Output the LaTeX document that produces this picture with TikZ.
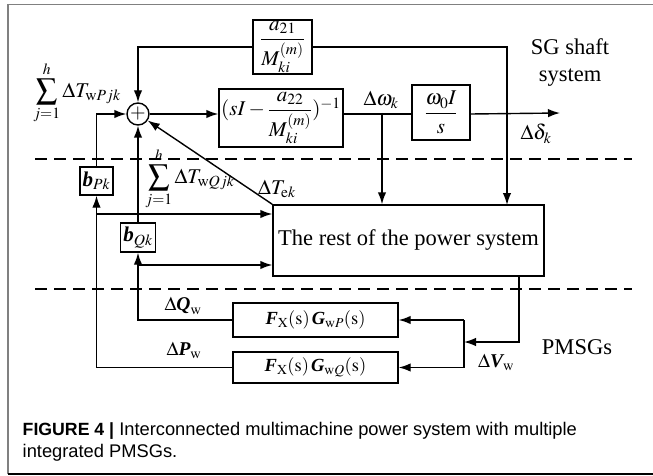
\documentclass[tikz,border=0pt]{standalone}
\usepackage{amsmath}
\usepackage{mathptmx}
\usepackage{fontspec}
\setmainfont{Liberation Serif}
\newfontfamily\capfont{Liberation Sans}
\usetikzlibrary{arrows.meta}
\newcommand{\bi}[1]{\text{\bfseries\itshape #1}}
\begin{document}
\begin{tikzpicture}[x=1pt,y=-1pt, line width=1.4pt,
  >={Latex[length=12pt,width=8.5pt]},
  blk/.style={draw, inner sep=0pt, font=\fontsize{21}{24}\selectfont},
  fblk/.style={draw, inner sep=0pt, font=\fontsize{18.5}{22}\selectfont},
  lbl/.style={inner sep=0pt, font=\fontsize{21}{24}\selectfont},
  slbl/.style={inner sep=0pt, font=\fontsize{19.5}{22}\selectfont},
  txt/.style={inner sep=0pt, font=\fontsize{22.5}{27}\selectfont},
  dsh/.style={dash pattern=on 12pt off 7pt},
  frame/.style={line width=1.2pt}]
\useasboundingbox (0,0) rectangle (653,476);
\draw[frame, gray] (653,4.5) -- (8,4.5) -- (8,474);
\draw[frame, black] (8,474) -- (653,474);

% blocks
\node[blk, minimum width=59pt, minimum height=54pt] (a21) at (282.5,47) {$\dfrac{a_{21}}{M_{ki}^{(m)}}$};
\node[blk, minimum width=124pt, minimum height=58pt] (inv) at (281,118) {$(sI-\dfrac{a_{22}}{M_{ki}^{(m)}})^{-1}$};
\node[blk, minimum width=58pt, minimum height=55pt] (int) at (441,112.5) {$\dfrac{\omega_0 I}{s}$};
\node[draw, circle, minimum size=22pt, inner sep=0pt, font=\fontsize{20}{20}\selectfont] (sum) at (138,114) {$+$};
\node[draw, txt, minimum width=271pt, minimum height=71pt] (rest) at (408.5,240.5) {The rest of the power system};
\node[blk, minimum width=33pt, minimum height=28pt] (bP) at (96.5,181) {$\bi{b}_{Pk}$};
\node[blk, minimum width=35pt, minimum height=29pt] (bQ) at (138,237.5) {$\bi{b}_{Qk}$};
\node[fblk, minimum width=165pt, minimum height=34pt] (F1) at (315.5,320) {$\bi{F}_{\mathrm{X}}(\mathrm{s})\,\bi{G}_{\mathrm{w}P}(\mathrm{s})$};
\node[fblk, minimum width=165pt, minimum height=31pt] (F2) at (315.5,367.5) {$\bi{F}_{\mathrm{X}}(\mathrm{s})\,\bi{G}_{\mathrm{w}Q}(\mathrm{s})$};

% coordinates
\coordinate (out) at (560,113);
\coordinate (wk) at (382,113);
\coordinate (r1) at (507,205);
\coordinate (p1) at (96.5,214);
\coordinate (q1) at (138,265);
\coordinate (vs) at (519,276);
\coordinate (vj) at (464,342);

% connectors
\draw[->] (sum.east) -- (sum.east -| inv.west);
\draw (sum.east -| inv.east) -- (sum.east -| int.west);
\draw[->] (sum.east -| int.east) -- (out);
\draw[->] (a21.west) -| (sum.north);
\draw[->] (a21.east) -| (r1);
\draw[->] (wk) -- (wk |- rest.north);
\draw[->] (bP.north) |- (sum.west);
\draw[->] (bQ.north) -- (sum.south);
\draw[->] (rest.north west) -- (sum);
\draw[->] (p1) -- (p1 -| rest.west);
\draw[->] (q1) -- (q1 -| rest.west);
\draw[->] (F1.west) -| (bQ.south);
\draw[->] (F2.west) -| (bP.south);
\draw[->] (vs) |- (vj);
\draw (vj |- F1.east) -- (vj |- F2.east);
\draw[->] (vj |- F1.east) -- (F1.east);
\draw[->] (vj |- F2.east) -- (F2.east);

% dashed separators
\draw[dsh] (35,159) -- (632,159);
\draw[dsh] (35,289) -- (632,289);

% labels
\node[lbl] (sumP) at (77,93) {$\displaystyle\sum_{j=1}^{h}\Delta T_{\mathrm{w}Pjk}$};
\node[lbl] (sumQ) at (190,179) {$\displaystyle\sum_{j=1}^{h}\Delta T_{\mathrm{w}Qjk}$};
\node[lbl] (Tek) at (277,189) {$\Delta T_{\mathrm{e}k}$};
\node[lbl] (dw) at (381,100) {$\Delta\omega_k$};
\node[lbl] (dd) at (536,134) {$\Delta\delta_k$};
\node[txt, align=center] (sg) at (570,63) {SG shaft\\system};
\node[slbl] (dQ) at (183,306) {$\Delta\bi{Q}_{\mathrm{w}}$};
\node[slbl] (dP) at (184,350) {$\Delta\bi{P}_{\mathrm{w}}$};
\node[slbl] (dV) at (496,362) {$\Delta\bi{V}_{\mathrm{w}}$};
\node[txt] (pm) at (577,347) {PMSGs};

% caption
\node[anchor=base west, inner sep=0pt, align=left, font=\capfont\fontsize{18.3}{22}\selectfont] (cap) at (22,457) {{\bfseries\fontsize{17.7}{22}\selectfont FIGURE 4 |} Interconnected multimachine power system with multiple\\integrated PMSGs.};
\end{tikzpicture}
\end{document}
